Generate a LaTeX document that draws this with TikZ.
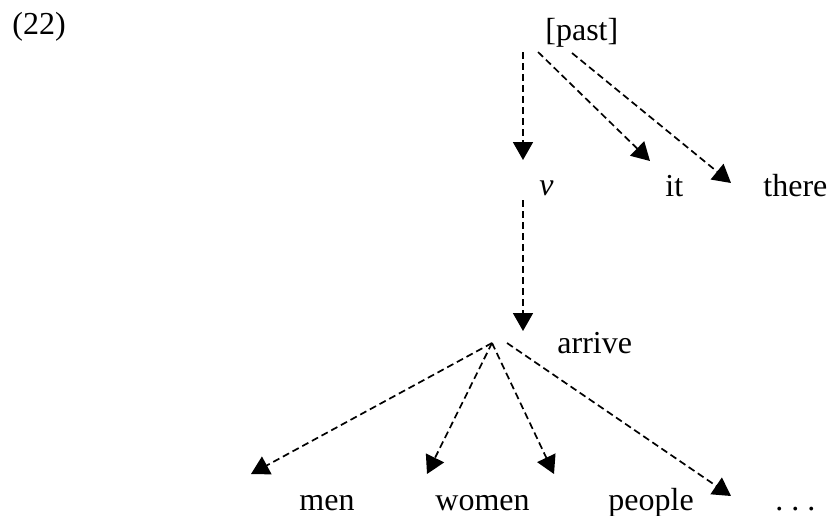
\documentclass[tikz,border=0pt]{standalone}
\usepackage{fontspec}
\setmainfont{Liberation Serif}
\usetikzlibrary{arrows.meta}
\tikzset{
  lbl/.style={anchor=base west, inner sep=0pt, font=\fontsize{16}{19}\selectfont},
  dep/.style={draw=black, line width=0.85pt, dash pattern=on 3.5pt off 2pt,
              -{Triangle[length=9pt,width=10pt]}}
}
\begin{document}
\begin{tikzpicture}[x=0.5pt,y=-0.5pt]
\useasboundingbox (0,0) rectangle (829,515);
% labels
\node[lbl] (ex) at (12,34) {(22)};
\node[lbl] (past) at (545,40) {[past]};
\node[lbl] (v) at (539,195) {\itshape v};
\node[lbl] (it) at (665,196) {it};
\node[lbl] (there) at (763,196) {there};
\node[lbl] (arrive) at (557,353) {arrive};
\node[lbl] (men) at (299,510) {men};
\node[lbl] (women) at (435,510) {women};
\node[lbl] (people) at (608,510) {people};
\node[lbl] (dots) at (775,510) {.\ .\ .};
% connector end points
\coordinate (pS1) at (523,52);
\coordinate (pS2) at (538,52);
\coordinate (pS3) at (572,53);
\coordinate (vIn) at (523,160);
\coordinate (itIn) at (650,161);
\coordinate (thereIn) at (731,183);
\coordinate (vOut) at (523,200);
\coordinate (arrIn) at (523,331);
\coordinate (hub) at (492,343);
\coordinate (hub2) at (507,343);
\coordinate (menIn) at (251,474);
\coordinate (womenIn) at (427,474);
\coordinate (peopleIn) at (554,474);
\coordinate (dotsIn) at (731,496);
% connectors
\draw[dep] (pS1) -- (vIn);
\draw[dep] (pS2) -- (itIn);
\draw[dep] (pS3) -- (thereIn);
\draw[dep] (vOut) -- (arrIn);
\draw[dep] (hub) -- (menIn);
\draw[dep] (hub) -- (womenIn);
\draw[dep] (hub) -- (peopleIn);
\draw[dep] (hub2) -- (dotsIn);
\end{tikzpicture}
\end{document}
